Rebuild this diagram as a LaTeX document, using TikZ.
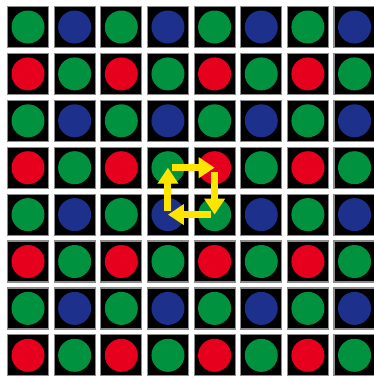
\documentclass[tikz,border=0pt]{standalone}
\usetikzlibrary{arrows.meta}
\definecolor{pixgreen}{RGB}{0,146,63}
\definecolor{pixblue}{RGB}{28,48,140}
\definecolor{pixred}{RGB}{230,0,30}
\definecolor{pixyellow}{RGB}{255,228,0}
\begin{document}
\begin{tikzpicture}[x=1pt,y=-1pt,
  cell/.style={draw=black!45,line width=1.2pt,fill=black,minimum size=41pt,inner sep=0pt},
  dot/.style={circle,inner sep=0pt,minimum size=33pt},
  turn/.style={pixyellow,line width=7pt,-{Triangle[width=20pt,length=16pt]},shorten <=4pt}]
\useasboundingbox[fill=white] (0,0) rectangle (374,378);
\clip (0,0) rectangle (374,378);
% sensor cells: green/blue rows alternate with red/green rows
\foreach \r in {0,...,7} \foreach \c in {0,...,7} {
  \pgfmathsetmacro{\px}{28+46.65*\c}
  \pgfmathsetmacro{\py}{27+46.9*\r}
  \pgfmathtruncatemacro{\k}{2*mod(\r,2)+mod(\c,2)}
  \edef\dotcol{\ifcase\k pixgreen\or pixblue\or pixred\or pixgreen\fi}
  \node[cell] (sq-\r-\c) at (\px,\py) {};
  \node[dot,fill=\dotcol] (c-\r-\c) at (\px,\py) {};
}
% clockwise cycle over the 2x2 block
\draw[turn] (c-3-3.center) -- (c-3-4.center);
\draw[turn] (c-3-4.center) -- (c-4-4.center);
\draw[turn] (c-4-4.center) -- (c-4-3.center);
\draw[turn] (c-4-3.center) -- (c-3-3.center);
\end{tikzpicture}
\end{document}
